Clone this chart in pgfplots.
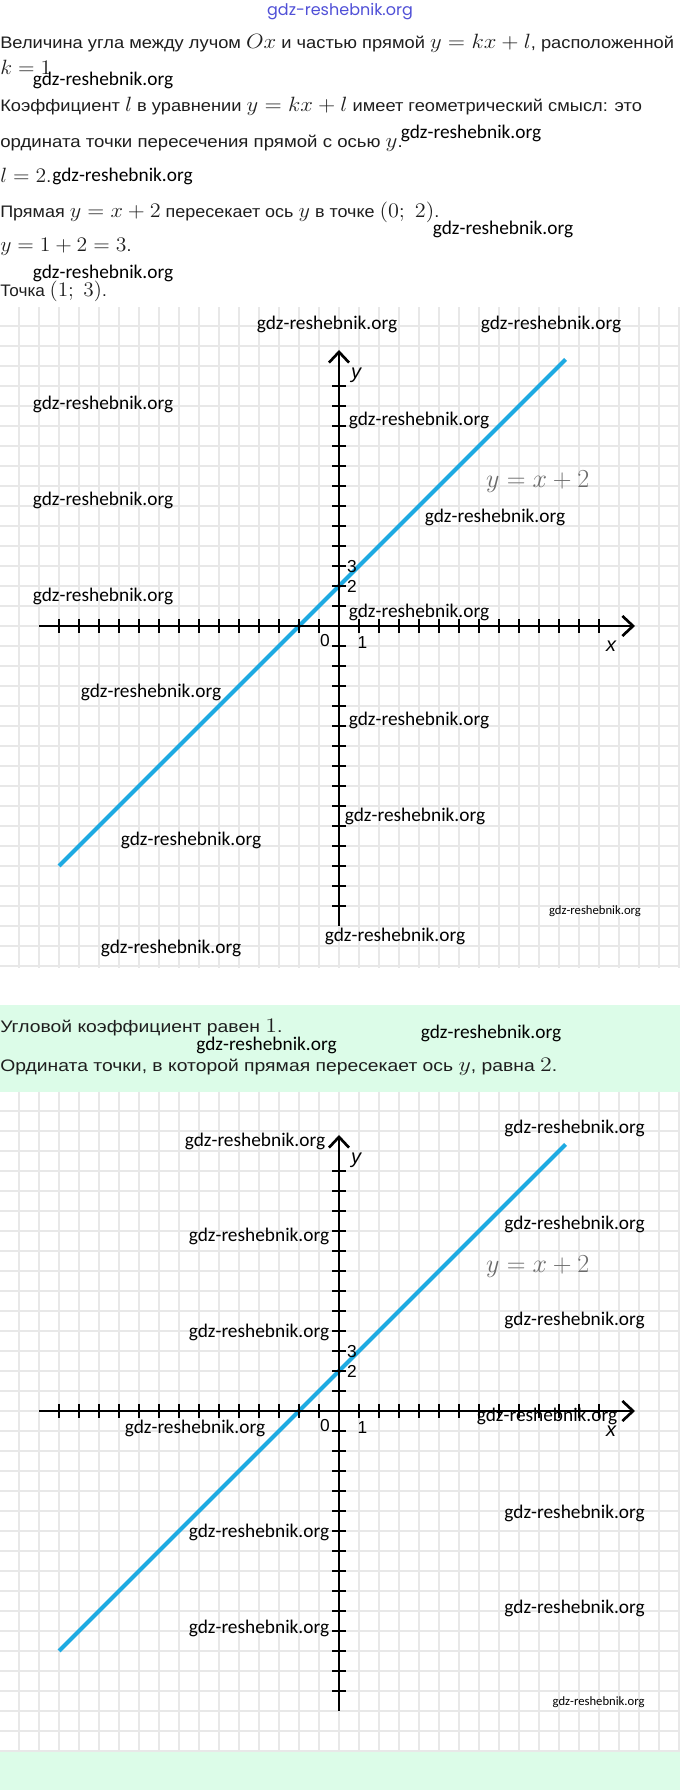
\RequirePackage{fix-cm}
\documentclass[border=0pt]{standalone}
\usepackage[no-math]{fontspec}
\usepackage{graphicx}
\usepackage{pgfplots}
\pgfplotsset{compat=1.18}
\usetikzlibrary{arrows.meta}
\setmainfont{Liberation Sans}
\newfontfamily\wmfont{Carlito}
\newfontfamily\topfont{Poppins}
\definecolor{lineblue}{RGB}{30,170,226}
\definecolor{mint}{RGB}{220,252,232}
\definecolor{gridc}{RGB}{232,232,232}
\definecolor{txt}{RGB}{30,30,30}
\definecolor{wmblue}{RGB}{80,80,215}
\newcommand{\T}{\fontsize{12.5pt}{14pt}\selectfont}
\newcommand{\M}[1]{{\fontsize{15.5pt}{16pt}\selectfont$#1$}}
\newcommand{\W}[2]{\node[font=\wmfont\fontsize{14.5pt}{15pt}\selectfont, inner sep=0pt] at (#1,{1790-#2}) {gdz-reshebnik.org};}
\newcommand{\Ws}[2]{\node[font=\wmfont\fontsize{9.5pt}{10pt}\selectfont, inner sep=0pt] at (#1,{1790-#2}) {gdz-reshebnik.org};}
\newcommand{\Line}[3]{\node at (0,{1790-#1}) {\scalebox{#2}[1]{#3}};}
\pgfplotsset{mygraph/.style={
  anchor=south west, x=15pt, y=15pt, xmin=-16.95, xmax=17.05,
  scale only axis, axis line style={draw=none},
  xtick={-16,...,17}, ytick={-17,...,15}, xticklabels={}, yticklabels={},
  major tick length=0pt, grid=major, major grid style={gridc, line width=0.8pt},
  clip=false}}
\newcommand{\graphcontent}{%
  \addplot[lineblue, line width=3pt] coordinates {(-14,-12) (11.33,13.33)};
  \addplot[black, line width=2pt, -{Straight Barb[length=8pt,width=15pt]}] coordinates {(-15,0) (14.8,0)};
  \addplot[black, line width=2pt, -{Straight Barb[length=8pt,width=15pt]}] coordinates {(0,-15) (0,13.8)};
  \addplot[black, only marks, mark=|, mark size=5.25pt, mark options={line width=1.6pt}] coordinates {
    (-14,0) (-13,0) (-12,0) (-11,0) (-10,0) (-9,0) (-8,0) (-7,0) (-6,0) (-5,0) (-4,0) (-3,0) (-2,0) (-1,0)
    (1,0) (2,0) (3,0) (4,0) (5,0) (6,0) (7,0) (8,0) (9,0) (10,0) (11,0) (12,0) (13,0)};
  \addplot[black, only marks, mark=-, mark size=5.25pt, mark options={line width=1.6pt}] coordinates {
    (0,-14) (0,-13) (0,-12) (0,-11) (0,-10) (0,-9) (0,-8) (0,-7) (0,-6) (0,-5) (0,-4) (0,-3) (0,-2) (0,-1)
    (0,1) (0,2) (0,3) (0,4) (0,5) (0,6) (0,7) (0,8) (0,9) (0,10) (0,11) (0,12)};
  \node[font=\fontsize{13pt}{13pt}\selectfont] at (axis cs:0.65,2.95) {3};
  \node[font=\fontsize{13pt}{13pt}\selectfont] at (axis cs:0.65,1.97) {2};
  \node[font=\fontsize{13pt}{13pt}\selectfont] at (axis cs:-0.7,-0.75) {0};
  \node[font=\fontsize{13pt}{13pt}\selectfont] at (axis cs:1.17,-0.82) {1};
  \node[font=\itshape\fontsize{15pt}{15pt}\selectfont] at (axis cs:13.6,-1.0) {x};
  \node[font=\itshape\fontsize{15pt}{15pt}\selectfont] at (axis cs:0.85,12.55) {y};
  \node[text=black!58, font=\fontsize{19.5pt}{20pt}\selectfont] at (axis cs:9.94,7.2) {$y = x + 2$};
}
\begin{document}
\begin{tikzpicture}[x=0.75pt, y=0.75pt]
\path[use as bounding box] (0,0) rectangle (680,1790);
\fill[white] (0,0) rectangle (680,1790);
\fill[mint] (0,{1790-1092}) rectangle (680,{1790-1005});
\fill[mint] (0,0) rectangle (680,{1790-1752});

% graph 1
\begin{axis}[mygraph, at={(0pt,616.5pt)}, ymin=-17.1, ymax=15.95]
\graphcontent
\end{axis}
% graph 2
\begin{axis}[mygraph, at={(0pt,28.5pt)}, ymin=-17.05, ymax=15.95]
\graphcontent
\end{axis}

% top text
\node[text=wmblue, font=\topfont\fontsize{12pt}{13pt}\selectfont, inner sep=0pt] at (340,{1790-12}) {gdz-reshebnik.org};
\begin{scope}[every node/.style={anchor=base west, inner sep=0pt, text=txt, font=\T}]
\Line{49}{1.097}{Величина угла между лучом \M{Ox} и частью прямой \M{y = kx + l}, расположенной}
\Line{75}{1.05}{\M{k = 1}}
\Line{112}{1.096}{Коэффициент \M{l} в уравнении \M{y = kx + l} имеет геометрический смысл: это}
\Line{148}{1.117}{ордината точки пересечения прямой с осью \M{y}.}
\Line{183}{1.05}{\M{l = 2}.}
\Line{218}{1.078}{Прямая \M{y = x + 2} пересекает ось \M{y} в точке \M{(0;\ 2)}.}
\Line{252}{1.05}{\M{y = 1 + 2 = 3}.}
\Line{297}{1.03}{Точка \M{(1;\ 3)}.}
\Line{1033}{1.16}{Угловой коэффициент равен \M{1}.}
\Line{1072}{1.16}{Ордината точки, в которой прямая пересекает ось \M{y}, равна \M{2}.}
\end{scope}

% watermarks
\W{103}{80}\W{471}{133}\W{122.5}{176}\W{503}{229}\W{103}{273}
\W{266.5}{1045}\W{491}{1033}
\W{327}{324}\W{551}{324}\W{103}{404}\W{419}{420}\W{103}{500}\W{495}{517}
\W{103}{596}\W{419}{612}\W{151}{692}\W{419}{720}\W{415}{816}\W{191}{840}
\W{395}{936}\W{171}{948}\Ws{595}{911}
\W{574.6}{1128}\W{255}{1141}\W{574.6}{1224}\W{259}{1236}\W{574.6}{1320}\W{259}{1332}
\W{547}{1416}\W{195}{1428}\W{574.6}{1513}\W{259}{1532}\W{574.6}{1608}\W{259}{1628}
\Ws{598.6}{1702}
\end{tikzpicture}
\end{document}
